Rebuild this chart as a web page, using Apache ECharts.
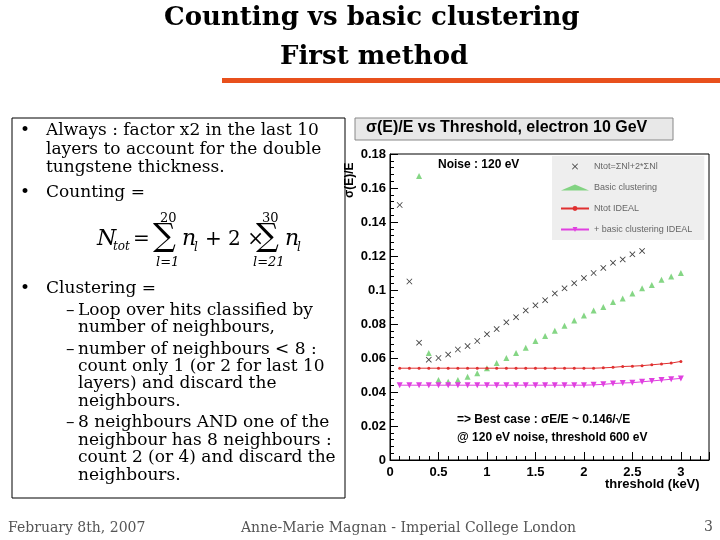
<!DOCTYPE html>
<html><head><meta charset="utf-8">
<script src="https://cdn.jsdelivr.net/npm/echarts@6/dist/echarts.min.js"></script>
<style>html,body{margin:0;padding:0;background:#fff}#c{width:720px;height:540px}</style>
</head><body><div id="c"></div>
<script>
const thresholds = [0.1,0.2,0.3,0.4,0.5,0.6,0.7,0.8,0.9,1.0,1.1,1.2,1.3,1.4,1.5,1.6,1.7,1.8,1.9,2.0,2.1,2.2,2.3,2.4,2.5,2.6,2.7,2.8,2.9,3.0];
const counting = [0.150,0.105,0.069,0.059,0.060,0.062,0.065,0.067,0.070,0.074,0.077,0.081,0.084,0.088,0.091,0.094,0.098,0.101,0.104,0.107,0.110,0.113,0.116,0.118,0.121,0.123,null,null,null,null];
const basicClustering = [null,null,0.167,0.063,0.047,0.046,0.047,0.049,0.051,0.054,0.057,0.060,0.063,0.066,0.070,0.073,0.076,0.079,0.082,0.085,0.088,0.090,0.093,0.095,0.098,0.101,0.103,0.106,0.108,0.110];
const countingIdeal = [0.054,0.054,0.054,0.054,0.054,0.054,0.054,0.054,0.054,0.054,0.054,0.054,0.054,0.054,0.054,0.054,0.054,0.054,0.054,0.054,0.054,0.0542,0.0545,0.055,0.0552,0.0555,0.056,0.0565,0.057,0.058];
const clusteringIdeal = [0.044,0.044,0.044,0.044,0.044,0.044,0.044,0.044,0.044,0.044,0.044,0.044,0.044,0.044,0.044,0.044,0.044,0.044,0.044,0.044,0.0442,0.0445,0.045,0.0453,0.0455,0.046,0.0465,0.047,0.0475,0.048];
const seriesNames = ['Ntot=ΣNl+2*ΣNl','Basic clustering','Ntot IDEAL','+ basic clustering IDEAL'];
const pair = a => thresholds.map((x,i)=>[x,a[i]]).filter(p=>p[1]!=null);

const chart = echarts.init(document.getElementById('c'));
const serif = '"DejaVu Serif","Liberation Serif",serif';
const sans = '"Liberation Sans","DejaVu Sans",sans-serif';
// [text, x, y]
const leftLines = [
 ['•',20,133],['Always : factor x2 in the last 10',46,133],
 ['layers to account for the double',46,152],
 ['tungstene thickness.',46,170],
 ['•',20,195],['Counting =',46,195],
 ['•',20,291],['Clustering =',46,291],
 ['–',66,313],['Loop over hits classified by',78,313],
 ['number of neighbours,',78,330],
 ['–',66,352],['number of neighbours < 8 :',78,352],
 ['count only 1 (or 2 for last 10',78,369],
 ['layers) and discard the',78,386],
 ['neighbours.',78,404],
 ['–',66,425],['8 neighbours AND one of the',78,425],
 ['neighbour has 8 neighbours :',78,443],
 ['count 2 (or 4) and discard the',78,460],
 ['neighbours.',78,478]
];
const graphics = [
 {type:'text',x:164,y:5,style:{text:'Counting vs basic clustering',font:'bold 26px '+serif,fill:'#000'}},
 {type:'text',x:280,y:44,style:{text:'First method',font:'bold 26px '+serif,fill:'#000'}},
 {type:'rect',shape:{x:222,y:78,width:498,height:5},style:{fill:'#e8501c'}},
 {type:'rect',shape:{x:12,y:118,width:333,height:380},style:{fill:'none',stroke:'#000',lineWidth:1}},
 {type:'rect',shape:{x:355,y:118,width:318,height:22},style:{fill:'#e8e8e8',stroke:'#888',lineWidth:1}},
 {type:'text',x:366,y:120,style:{text:'σ(E)/E vs Threshold, electron 10 GeV',font:'bold 16px '+sans,fill:'#000'}},
 {type:'text',x:438,y:159,style:{text:'Noise : 120 eV',font:'bold 12px '+sans,fill:'#000'}},
 {type:'text',x:457,y:414,style:{text:'=> Best case : σE/E ~ 0.146/√E',font:'bold 12px '+sans,fill:'#000'}},
 {type:'text',x:457,y:432,style:{text:'@ 120 eV noise, threshold 600 eV',font:'bold 12px '+sans,fill:'#000'}},
 {type:'text',x:605,y:478,style:{text:'threshold (keV)',font:'bold 13px '+sans,fill:'#000'}},
 {type:'text',x:344,y:198,rotation:Math.PI/2,style:{text:'σ(E)/E',font:'bold 12px '+sans,fill:'#000'}},
 {type:'text',x:97,y:228,style:{text:'N',font:'italic 22px '+serif,fill:'#000'}},
 {type:'text',x:113,y:241,style:{text:'tot',font:'italic 12px '+serif,fill:'#000'}},
 {type:'text',x:133,y:230,style:{text:'=',font:'20px '+serif,fill:'#000'}},
 {type:'text',x:160,y:212,style:{text:'20',font:'13px '+serif,fill:'#000'}},
 {type:'text',x:153,y:222,style:{text:'∑',font:'32px '+serif,fill:'#000'}},
 {type:'text',x:156,y:256,style:{text:'l=1',font:'italic 13px '+serif,fill:'#000'}},
 {type:'text',x:182,y:228,style:{text:'n',font:'italic 22px '+serif,fill:'#000'}},
 {type:'text',x:194,y:242,style:{text:'l',font:'italic 12px '+serif,fill:'#000'}},
 {type:'text',x:205,y:230,style:{text:'+ 2 ×',font:'20px '+serif,fill:'#000'}},
 {type:'text',x:262,y:212,style:{text:'30',font:'13px '+serif,fill:'#000'}},
 {type:'text',x:256,y:222,style:{text:'∑',font:'32px '+serif,fill:'#000'}},
 {type:'text',x:253,y:256,style:{text:'l=21',font:'italic 13px '+serif,fill:'#000'}},
 {type:'text',x:285,y:228,style:{text:'n',font:'italic 22px '+serif,fill:'#000'}},
 {type:'text',x:297,y:242,style:{text:'l',font:'italic 12px '+serif,fill:'#000'}},
 {type:'text',x:8,y:521,style:{text:'February 8th, 2007',font:'14px '+serif,fill:'#555'}},
 {type:'text',x:241,y:521,style:{text:'Anne-Marie Magnan - Imperial College London',font:'14px '+serif,fill:'#555'}},
 {type:'text',x:704,y:520,style:{text:'3',font:'14px '+serif,fill:'#555'}}
];
leftLines.forEach(([t,x,y])=>graphics.push({type:'text',x:x,y:y-11,style:{text:t,font:'17px '+serif,fill:'#000'}}));

const crossSym = 'path://M1,0L5,4L9,0L10,1L6,5L10,9L9,10L5,6L1,10L0,9L4,5L0,1Z';
chart.setOption({
 animation:false,
 grid:{left:390,right:11,top:154,bottom:80,show:true,borderColor:'#000',borderWidth:1,backgroundColor:'#fff'},
 xAxis:{type:'value',min:0,max:3.29,interval:0.5,axisLine:{lineStyle:{color:'#000'}},
  axisTick:{inside:true,length:8,lineStyle:{color:'#000'}},minorTick:{show:true,splitNumber:5,length:4,lineStyle:{color:'#000'}},
  splitLine:{show:false},axisLabel:{showMaxLabel:false,color:'#000',fontWeight:'bold',fontSize:13,fontFamily:sans,margin:6}},
 yAxis:{type:'value',min:0,max:0.18,interval:0.02,axisLine:{show:true,lineStyle:{color:'#000'}},
  axisTick:{inside:true,length:8,lineStyle:{color:'#000'}},minorTick:{show:true,splitNumber:5,length:4,lineStyle:{color:'#000'}},
  splitLine:{show:false},axisLabel:{color:'#000',fontWeight:'bold',fontSize:13,fontFamily:sans,margin:4,formatter:v=>v===0?'0':String(+v.toFixed(2))}},
 legend:{orient:'vertical',left:552,top:156,width:150,itemGap:12,itemWidth:28,itemHeight:6,backgroundColor:'#eee',padding:[6,12,6,8],
  textStyle:{color:'#666',fontSize:9,fontFamily:sans},data:seriesNames},
 graphic:graphics,
 series:[
  {name:seriesNames[0],type:'scatter',data:pair(counting),symbol:crossSym,symbolSize:6,itemStyle:{color:'#111'}},
  {name:seriesNames[1],type:'scatter',data:pair(basicClustering),symbol:'triangle',symbolSize:6,itemStyle:{color:'#66cc66'}},
  {name:seriesNames[2],type:'line',data:pair(countingIdeal),symbol:'circle',symbolSize:3,lineStyle:{color:'#e03030',width:1},itemStyle:{color:'#e03030'}},
  {name:seriesNames[3],type:'line',data:pair(clusteringIdeal),symbol:'path://M0,0L10,0L5,9Z',symbolSize:6,lineStyle:{color:'#e040e0',width:1},itemStyle:{color:'#e040e0'}}
 ]
});
</script></body></html>
